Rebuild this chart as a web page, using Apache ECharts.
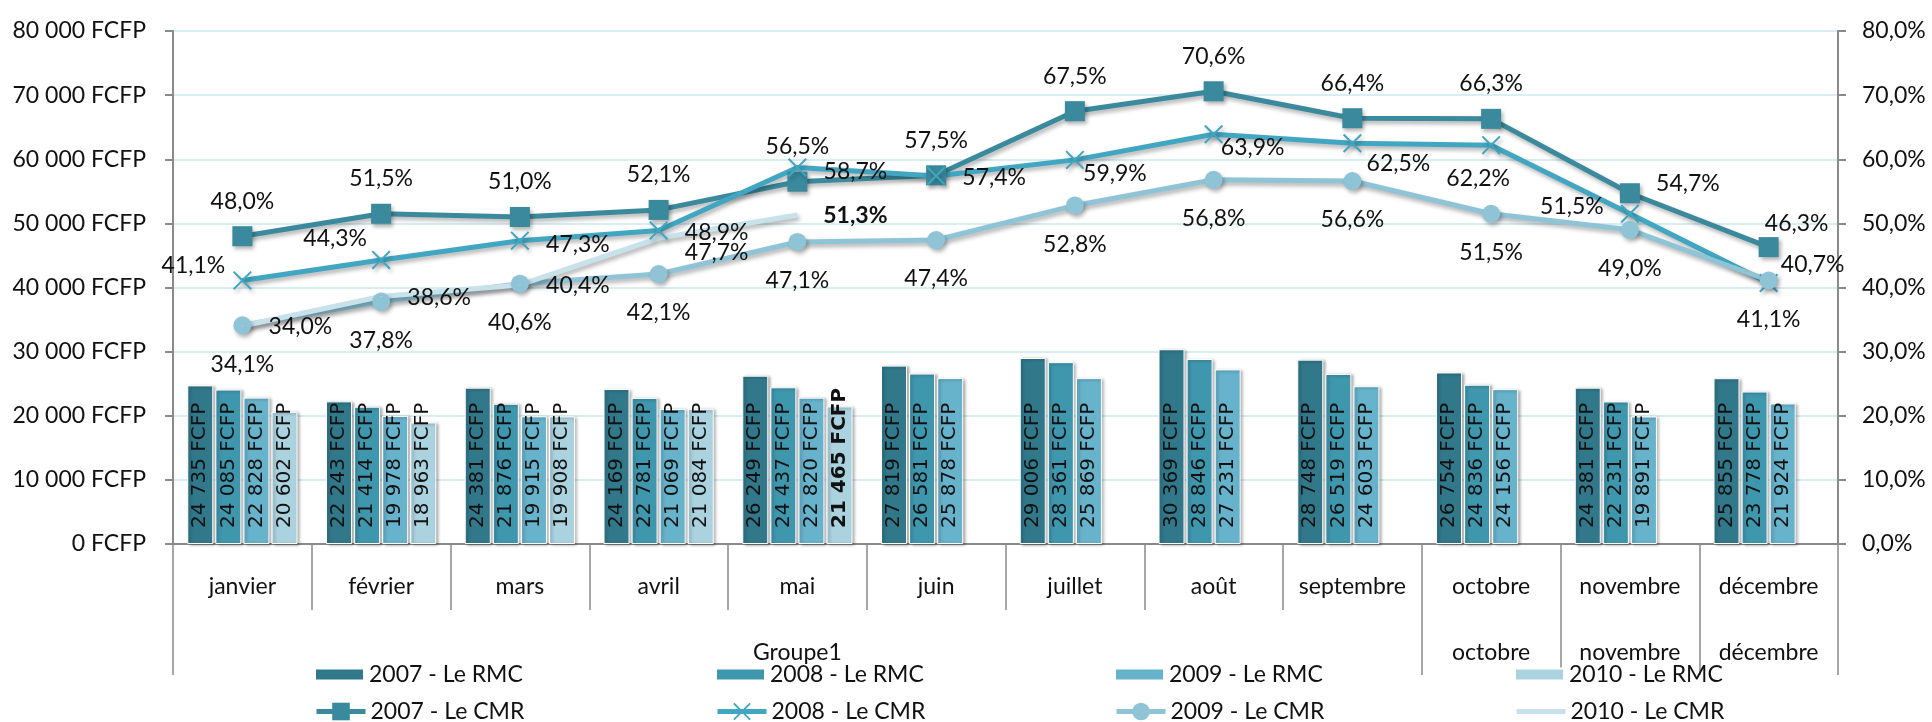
<!DOCTYPE html>
<html><head><meta charset="utf-8">
<script src="https://cdn.jsdelivr.net/npm/echarts@6/dist/echarts.min.js"></script>
<style>html,body{margin:0;padding:0;background:#fff}#c{width:1932px;height:722px}</style>
</head><body><div id="c"></div>
<script>
// ---- data ----
const months = ['janvier','février','mars','avril','mai','juin','juillet','août','septembre','octobre','novembre','décembre'];
const groupLabels = ['', '', '', '', 'Groupe1', '', '', '', '', 'octobre', 'novembre', 'décembre'];
const rmc2007 = [24735, 22243, 24381, 24169, 26249, 27819, 29006, 30369, 28748, 26754, 24381, 25855];
const rmc2008 = [24085, 21414, 21876, 22781, 24437, 26581, 28361, 28846, 26519, 24836, 22231, 23778];
const rmc2009 = [22828, 19978, 19915, 21069, 22820, 25878, 25869, 27231, 24603, 24156, 19891, 21924];
const rmc2010 = [20602, 18963, 19908, 21084, 21465, null, null, null, null, null, null, null];
const cmr2007 = [48.0, 51.5, 51.0, 52.1, 56.5, 57.5, 67.5, 70.6, 66.4, 66.3, 54.7, 46.3];
const cmr2008 = [41.1, 44.3, 47.3, 48.9, 58.7, 57.4, 59.9, 63.9, 62.5, 62.2, 51.5, 40.7];
const cmr2009 = [34.1, 37.8, 40.6, 42.1, 47.1, 47.4, 52.8, 56.8, 56.6, 51.5, 49.0, 41.1];
const cmr2010 = [34.0, 38.6, 40.4, 47.7, 51.3, null, null, null, null, null, null, null];
const leftAxis = {min: 0, max: 80000, step: 10000};
const rightAxis = {min: 0, max: 80, step: 10};
const seriesNames = ['2007 - Le RMC','2008 - Le RMC','2009 - Le RMC','2010 - Le RMC',
                     '2007 - Le CMR','2008 - Le CMR','2009 - Le CMR','2010 - Le CMR'];
const boldIndex = 4; // last month of 2010 highlighted

// ---- styles ----
const FONT = 'Lato';
const barColors = ['#31788b', '#3f97ae', '#67b3cb', '#abd2df'];
const lineColors = ['#3a899d', '#41a6c1', '#8fc4d6', '#c7e2eb'];
const off2007 = [[0,-35],[0,-35],[0,-35],[0,-35],[0,-35],[0,-35],[0,-35],[0,-35],[0,-35],[0,-35],[58,-10],[28,-24]];
const off2008 = [[-49,-15],[-46,-21],[58,4],[58,2],[58,4],[58,2],[40,14],[39,13],[46,20],[-13,33],[-58,-7],[44,-18]];
const off2009 = months.map(() => [0, 39]);
const off2010 = [[58,1],[58,1],[58,1],[58,14],[58,1],[58,1],[58,1],[58,1],[58,1],[58,1],[58,1],[58,1]];
const offsets = [off2007, off2008, off2009, off2010];

const fmtThousands = v => String(v).replace(/\B(?=(\d{3})+(?!\d))/g, ' ');
const fmtPct = v => v.toFixed(1).replace('.', ',') + '%';

const axisGrey = '#8a8a8a';
const txt = {fontFamily: FONT, fontSize: 23, color: '#111'};

const barSeries = [rmc2007, rmc2008, rmc2009, rmc2010].map((arr, k) => ({
  name: seriesNames[k], type: 'bar', xAxisIndex: 0, yAxisIndex: 0,
  barWidth: 26, barGap: '8%',
  itemStyle: {color: barColors[k], borderColor: '#fff', borderWidth: 1,
              shadowColor: 'rgba(0,0,0,0.35)', shadowBlur: 3, shadowOffsetX: 2, shadowOffsetY: 1},
  label: {show: true, position: 'insideBottom', rotate: 90, align: 'left', verticalAlign: 'middle',
          distance: 16, fontFamily: 'DejaVu Sans', fontSize: 20, color: '#111',
          formatter: p => fmtThousands(p.value) + ' FCFP'},
  data: arr.map((v, i) => (k === 3 && i === boldIndex) ? {value: v, label: {fontWeight: 'bold'}} : v)
}));

const symbols = ['rect', 'path://M0,1.5 L1.5,0 L10,8.5 L18.5,0 L20,1.5 L11.5,10 L20,18.5 L18.5,20 L10,11.5 L1.5,20 L0,18.5 L8.5,10 Z', 'circle', 'circle'];
const symSizes = [20, 19, 18, 1];
const lineSeries = [cmr2007, cmr2008, cmr2009, cmr2010].map((arr, k) => ({
  name: seriesNames[4 + k], type: 'line', xAxisIndex: 0, yAxisIndex: 1,
  symbol: symbols[k], symbolSize: symSizes[k], showSymbol: true,
  lineStyle: {width: 5, color: lineColors[k], shadowColor: 'rgba(0,0,0,0.3)', shadowBlur: 4, shadowOffsetX: 2, shadowOffsetY: 3},
  itemStyle: {color: lineColors[k], shadowColor: 'rgba(0,0,0,0.3)', shadowBlur: 4, shadowOffsetX: 2, shadowOffsetY: 3},
  z: 5,
  label: {show: true, position: 'inside', align: 'center', verticalAlign: 'middle',
          fontFamily: FONT, fontSize: 23, color: '#111', textBorderWidth: 0, formatter: p => fmtPct(p.value)},
  data: arr.map((v, i) => ({
    value: v,
    label: {offset: offsets[k][i], fontWeight: (k === 3 && i === boldIndex) ? 'bold' : 'normal'}
  }))
}));

const legendCols = [314, 715, 1114, 1514];
const legends = [];
for (let c = 0; c < 4; c++) {
  legends.push({data: [{name: seriesNames[c], icon: 'rect'}], left: legendCols[c], top: 663,
    itemWidth: 49, itemHeight: 12, itemGap: 0, selectedMode: false, textStyle: txt, padding: 0});
  const item = {name: seriesNames[4 + c]};
  if (c === 3) item.itemStyle = {opacity: 0};
  legends.push({data: [item], left: legendCols[c], top: 700,
    itemWidth: 49, itemHeight: 22, itemGap: 0, selectedMode: false, textStyle: txt, padding: 0,
    lineStyle: {width: 5, color: lineColors[c]}});
}

const option = {
  animation: false,
  backgroundColor: '#fff',
  grid: {left: 173, right: 94, top: 31, bottom: 178, containLabel: false, outerBoundsMode: 'none'},
  legend: legends,
  xAxis: [
    {type: 'category', data: months, position: 'bottom', boundaryGap: true,
     axisLine: {show: true, lineStyle: {color: axisGrey, width: 2}},
     axisTick: {show: true, length: 66, lineStyle: {color: axisGrey, width: 1.5}},
     axisLabel: Object.assign({interval: 0, margin: 31}, txt)},
    {type: 'category', data: groupLabels, position: 'bottom', boundaryGap: true,
     axisLine: {show: false},
     axisTick: {show: true, length: 131, interval: (i) => i === 0 || i >= 9, lineStyle: {color: axisGrey, width: 1.5}},
     axisLabel: Object.assign({interval: 0, margin: 97}, txt)}
  ],
  yAxis: [
    {type: 'value', position: 'left', min: leftAxis.min, max: leftAxis.max, interval: leftAxis.step,
     axisLine: {show: true, lineStyle: {color: axisGrey, width: 2}},
     axisTick: {show: true, length: 8, lineStyle: {color: axisGrey, width: 2}},
     splitLine: {show: true, lineStyle: {color: '#d8edf4', width: 2}},
     axisLabel: Object.assign({margin: 27, formatter: v => fmtThousands(v) + ' FCFP'}, txt)},
    {type: 'value', position: 'right', min: rightAxis.min, max: rightAxis.max, interval: rightAxis.step,
     axisLine: {show: true, lineStyle: {color: axisGrey, width: 2}},
     axisTick: {show: true, length: 8, lineStyle: {color: axisGrey, width: 2}},
     splitLine: {show: false},
     axisLabel: Object.assign({margin: 24, formatter: v => fmtPct(v)}, txt)}
  ],
  series: barSeries.concat(lineSeries)
};
const chart = echarts.init(document.getElementById('c'), null, {renderer: 'canvas'});
chart.setOption(option);
</script></body></html>
